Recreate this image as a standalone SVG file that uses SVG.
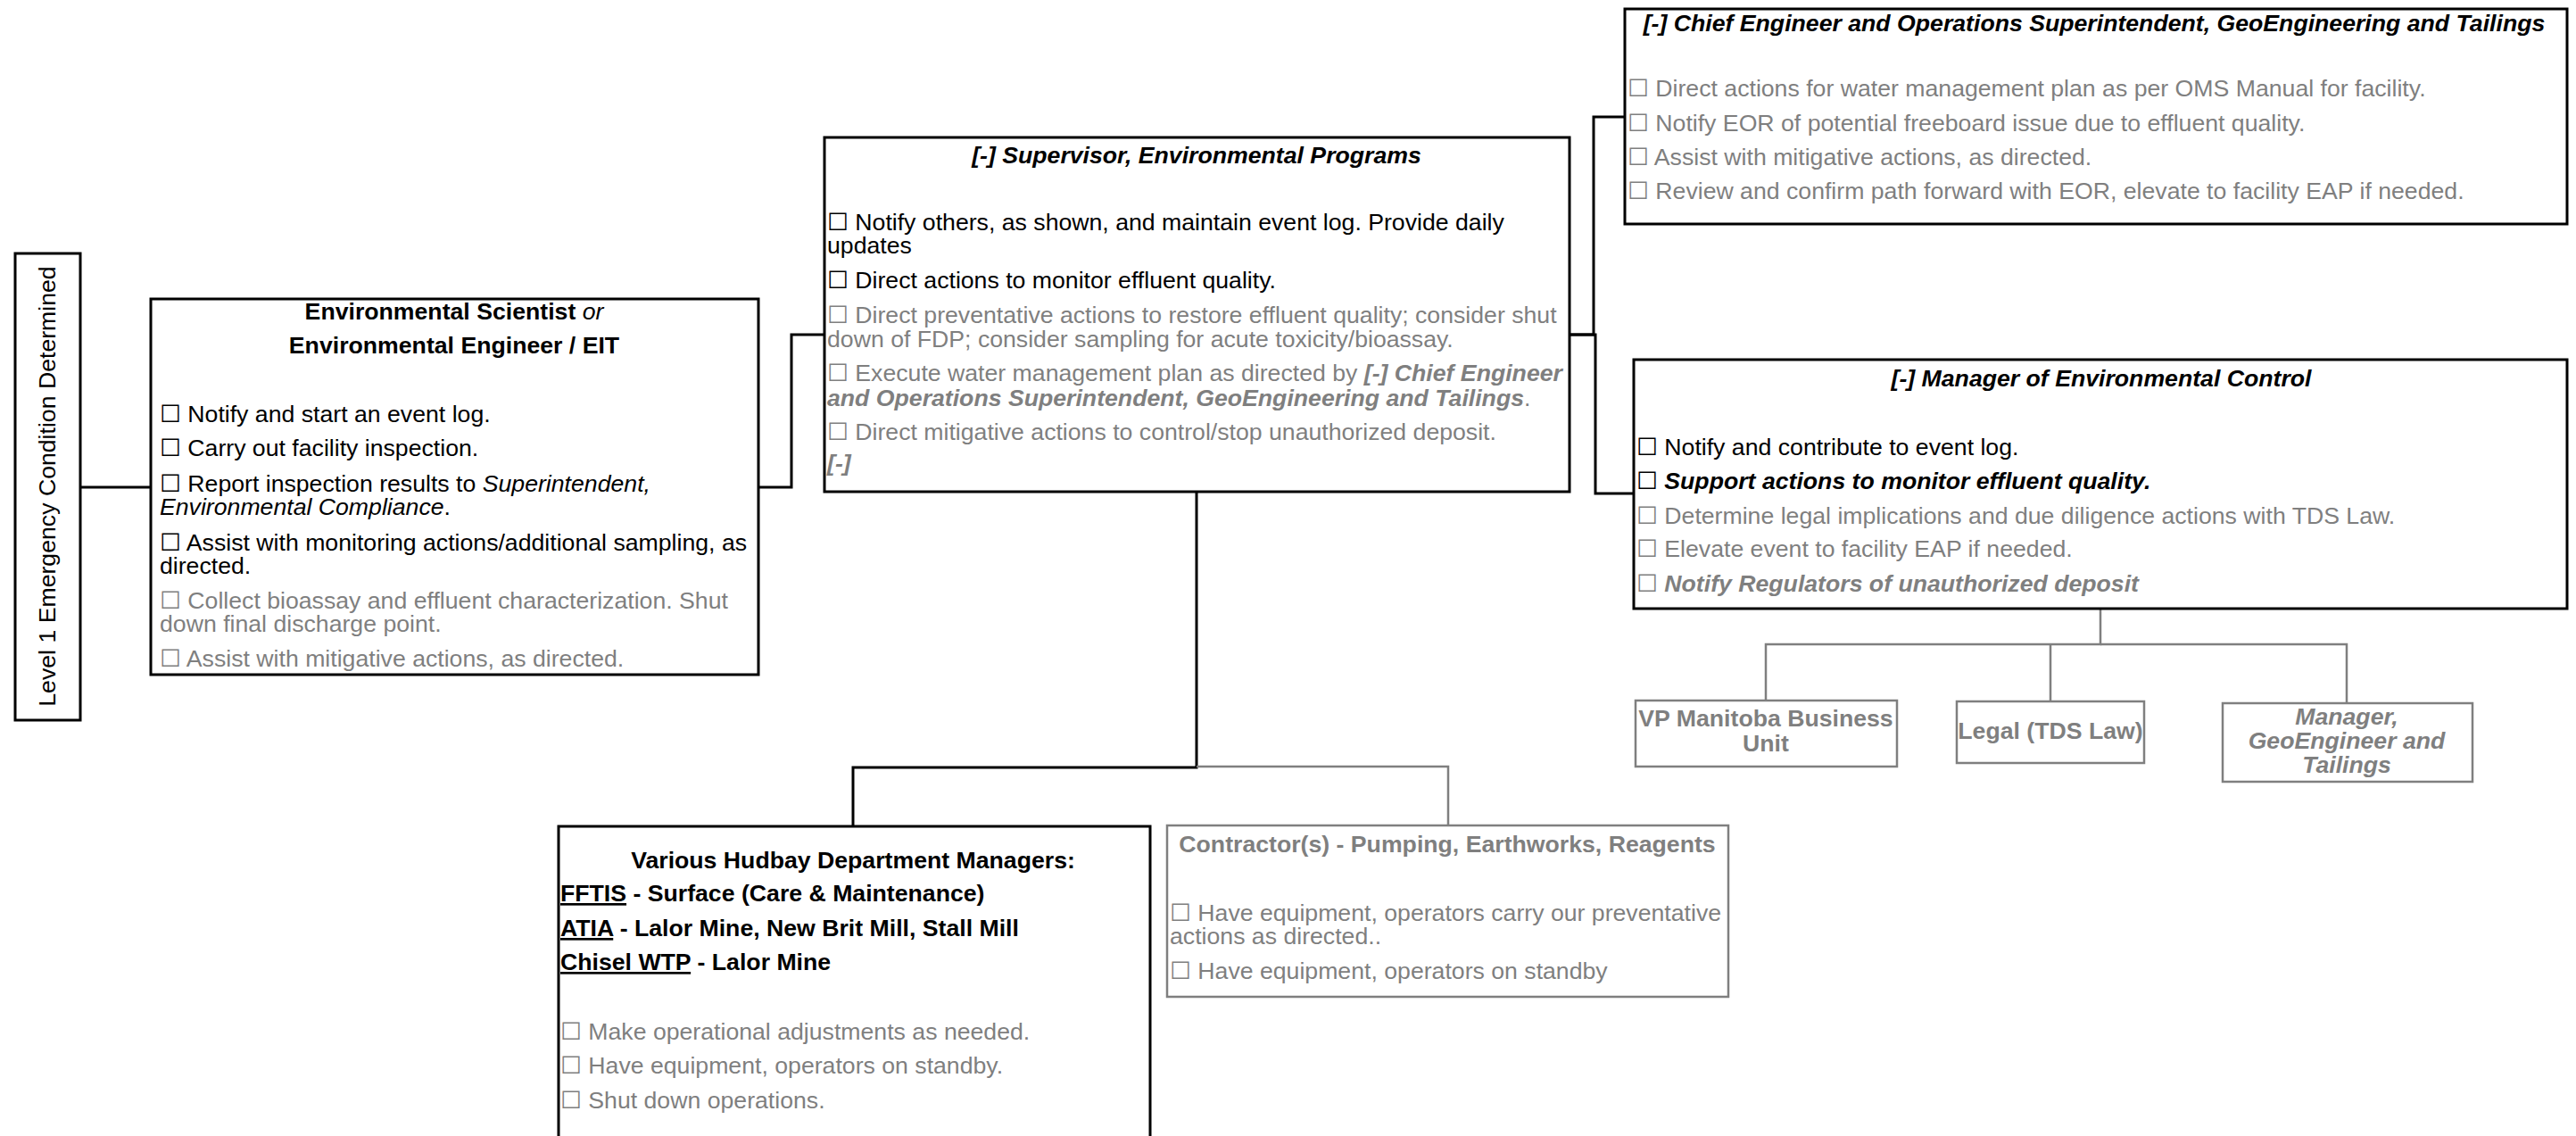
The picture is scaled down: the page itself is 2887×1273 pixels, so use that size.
<svg xmlns="http://www.w3.org/2000/svg" width="2887" height="1273" viewBox="0 0 2887 1273">
<style>
text{font-family:"Liberation Sans",Arial,"DejaVu Sans",sans-serif;font-size:26.67px;fill:#000}
.g{fill:#7f7f7f}
.b{font-weight:bold}
.bi{font-weight:bold;font-style:italic}
.i{font-style:italic}
.c{text-anchor:middle}
.box{fill:#fff;stroke:#000;stroke-width:3}
.gbox{fill:#fff;stroke:#7f7f7f;stroke-width:2.5}
.ln{fill:none;stroke:#000;stroke-width:3}
.gln{fill:none;stroke:#7f7f7f;stroke-width:2.5}
</style>
<rect width="2887" height="1273" fill="#fff"/>
<g id="connectors">
<path class="ln" d="M90,546H169"/>
<path class="ln" d="M849,546H887V375H924"/>
<path class="ln" d="M1759,375H1786V131H1821"/>
<path class="ln" d="M1759,375H1788V553H1831"/>
<path class="ln" d="M1341,551V860H956V926"/>
<path class="gln" d="M1341,859H1623V925"/>
<path class="gln" d="M2354,682V722H1979V785"/>
<path class="gln" d="M2354,722H2630V788"/>
<path class="gln" d="M2298,722V786"/>
</g>
<g id="level1">
<rect class="box" x="17" y="284" width="73" height="523"/>
<text class="c" transform="translate(62,545) rotate(-90)">Level 1 Emergency Condition Determined</text>
</g>
<g id="env-scientist">
<rect class="box" x="169" y="335" width="681" height="421"/>
<text class="c" x="509" y="358"><tspan class="b">Environmental Scientist </tspan><tspan class="i">or</tspan></text>
<text class="c b" x="509" y="396">Environmental Engineer / EIT</text>
<text x="179" y="473">☐ Notify and start an event log.</text>
<text x="179" y="511">☐ Carry out facility inspection.</text>
<text x="179" y="551">☐ Report inspection results to <tspan class="i">Superintendent,</tspan></text>
<text x="179" y="577"><tspan class="i">Environmental Compliance</tspan>.</text>
<text x="179" y="617">☐ Assist with monitoring actions/additional sampling, as</text>
<text x="179" y="643">directed.</text>
<text class="g" x="179" y="682">☐ Collect bioassay and effluent characterization. Shut</text>
<text class="g" x="179" y="708">down final discharge point.</text>
<text class="g" x="179" y="747">☐ Assist with mitigative actions, as directed.</text>
</g>
<g id="supervisor">
<rect class="box" x="924" y="154" width="835" height="397"/>
<text class="c bi" x="1341" y="183">[-] Supervisor, Environmental Programs</text>
<text x="927" y="258">☐ Notify others, as shown,  and maintain event log. Provide daily</text>
<text x="927" y="284">updates</text>
<text x="927" y="323">☐ Direct actions to monitor effluent quality.</text>
<text class="g" x="927" y="362">☐ Direct preventative actions to restore effluent quality; consider shut</text>
<text class="g" x="927" y="389">down of FDP; consider sampling for acute toxicity/bioassay.</text>
<text class="g" x="927" y="427">☐ Execute water management plan as directed by <tspan class="bi">[-] Chief Engineer</tspan></text>
<text class="g" x="927" y="455"><tspan class="bi">and Operations Superintendent, GeoEngineering and Tailings</tspan>.</text>
<text class="g" x="927" y="493">☐ Direct mitigative actions to control/stop unauthorized deposit.</text>
<text class="g bi" x="927" y="528">[-]</text>
</g>
<g id="chief-engineer">
<rect class="box" x="1821" y="10" width="1056" height="241"/>
<text class="c bi" x="2347" y="35">[-] Chief Engineer and Operations Superintendent, GeoEngineering and Tailings</text>
<text class="g" x="1824" y="108">☐ Direct actions for water management plan as per OMS Manual for facility.</text>
<text class="g" x="1824" y="147">☐ Notify EOR of potential freeboard issue due to effluent quality.</text>
<text class="g" x="1824" y="185">☐ Assist with mitigative actions, as directed.</text>
<text class="g" x="1824" y="223">☐ Review and confirm path forward with EOR, elevate to facility EAP if needed.</text>
</g>
<g id="manager-env-control">
<rect class="box" x="1831" y="403" width="1046" height="279"/>
<text class="c bi" x="2355" y="433">[-] Manager of Environmental Control</text>
<text x="1834" y="510">☐ Notify and contribute to event log.</text>
<text x="1834" y="548">☐ <tspan class="bi">Support actions to monitor effluent quality.</tspan></text>
<text class="g" x="1834" y="587">☐ Determine legal implications and due diligence actions with TDS Law.</text>
<text class="g" x="1834" y="624">☐ Elevate event to facility EAP if needed.</text>
<text class="g" x="1834" y="663">☐ <tspan class="bi">Notify Regulators of unauthorized deposit</tspan></text>
</g>
<g id="vp-manitoba">
<rect class="gbox" x="1833" y="785" width="293" height="74"/>
<text class="c b g" x="1979" y="814">VP Manitoba Business</text>
<text class="c b g" x="1979" y="842">Unit</text>
</g>
<g id="legal">
<rect class="gbox" x="2193" y="786" width="210" height="69"/>
<text class="c b g" x="2298" y="828">Legal (TDS Law)</text>
</g>
<g id="manager-geo">
<rect class="gbox" x="2491" y="788" width="280" height="88"/>
<text class="c bi g" x="2630" y="812">Manager,</text>
<text class="c bi g" x="2630" y="839">GeoEngineer and</text>
<text class="c bi g" x="2630" y="866">Tailings</text>
</g>
<g id="hudbay-managers">
<rect class="box" x="626" y="926" width="663" height="360"/>
<text class="c b" x="956" y="973">Various Hudbay Department Managers:</text>
<text class="b" x="628" y="1010"><tspan text-decoration="underline">FFTIS</tspan> - Surface (Care &amp; Maintenance)</text>
<text class="b" x="628" y="1049"><tspan text-decoration="underline">ATIA</tspan> - Lalor Mine, New Brit Mill, Stall Mill</text>
<text class="b" x="628" y="1087"><tspan text-decoration="underline">Chisel WTP</tspan> - Lalor Mine</text>
<text class="g" x="628" y="1165">☐ Make operational adjustments as needed.</text>
<text class="g" x="628" y="1203">☐ Have equipment, operators on standby.</text>
<text class="g" x="628" y="1242">☐ Shut down operations.</text>
</g>
<g id="contractors">
<rect class="gbox" x="1308" y="925" width="629" height="192"/>
<text class="c b g" x="1622" y="955">Contractor(s) - Pumping, Earthworks, Reagents</text>
<text class="g" x="1311" y="1032">☐ Have equipment, operators carry our preventative</text>
<text class="g" x="1311" y="1058">actions as directed..</text>
<text class="g" x="1311" y="1097">☐ Have equipment, operators on standby</text>
</g>
</svg>
